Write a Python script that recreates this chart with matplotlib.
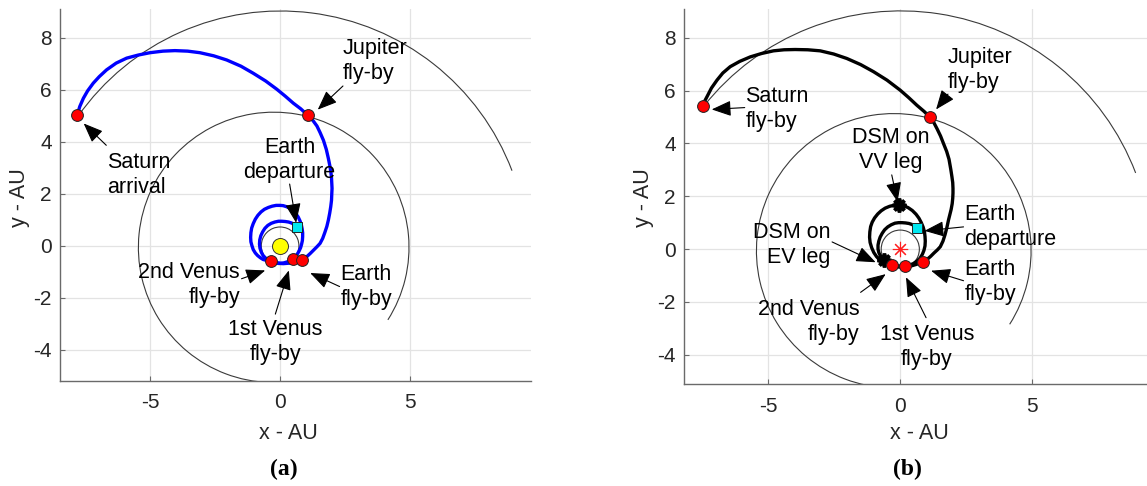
import matplotlib
matplotlib.use("Agg")
import matplotlib.pyplot as plt
from matplotlib.patches import Arc
import numpy as np

plt.rcParams['font.family'] = ['Liberation Sans', 'DejaVu Sans']

# ---------------- data ----------------
# planetary orbits: semi-major axis (AU), eccentricity, perihelion longitude (deg)
orbit_names = ['Venus', 'Earth', 'Jupiter', 'Saturn']
orbit_a = [0.723, 1.000, 5.203, 9.537]
orbit_e = [0.0068, 0.0167, 0.0484, 0.0539]
orbit_peri = [131.5, 102.9, 14.7, 92.4]
# drawn arc extent (deg, about the ellipse centre) for each panel
orbit_start_a = [0, 0, -32.4, 20.9]
orbit_end_a = [360, 360, 268, 144.8]
orbit_start_b = [0, 0, -32.4, 20.9]
orbit_end_b = [360, 360, 268, 141.6]

# panel (a) trajectory legs (AU)
a_ev_x = [0.64, 0.55, 0.45, 0.33, 0.20, 0.07, -0.06, -0.20, -0.34, -0.47, -0.58, -0.67, -0.74, -0.78, -0.79,
          -0.77, -0.72, -0.65, -0.55, -0.43, -0.30, -0.15, 0.00, 0.15, 0.28, 0.39, 0.49]
a_ev_y = [0.73, 0.81, 0.87, 0.91, 0.93, 0.94, 0.94, 0.91, 0.86, 0.78, 0.67, 0.53, 0.38, 0.22, 0.06,
          -0.10, -0.25, -0.38, -0.48, -0.56, -0.62, -0.66, -0.68, -0.66, -0.62, -0.57, -0.51]
a_vv_x = [0.49, 0.58, 0.66, 0.73, 0.79, 0.83, 0.86, 0.87, 0.87, 0.85, 0.82, 0.77, 0.70, 0.61, 0.50, 0.38,
          0.25, 0.12, 0.00, -0.15, -0.30, -0.45, -0.60, -0.73, -0.85, -0.95, -1.03, -1.09, -1.12, -1.13,
          -1.12, -1.08, -1.03, -0.95, -0.86, -0.76, -0.65, -0.50, -0.35]
a_vv_y = [-0.51, -0.43, -0.33, -0.21, -0.08, 0.06, 0.20, 0.35, 0.50, 0.65, 0.80, 0.95, 1.10, 1.23, 1.35, 1.44,
          1.50, 1.54, 1.55, 1.55, 1.52, 1.47, 1.40, 1.30, 1.17, 1.02, 0.85, 0.68, 0.50, 0.32,
          0.15, 0.00, -0.15, -0.28, -0.38, -0.46, -0.53, -0.57, -0.59]
a_ve_x = [-0.35, -0.12, 0.12, 0.38, 0.62, 0.86]
a_ve_y = [-0.59, -0.66, -0.69, -0.67, -0.62, -0.55]
a_ej_x = [0.86, 0.95, 1.03, 1.16, 1.28, 1.42, 1.54, 1.64, 1.72, 1.80, 1.86, 1.91, 1.95, 1.98, 1.99, 2.00,
          1.99, 1.98, 1.96, 1.92, 1.86, 1.78, 1.67, 1.54, 1.42, 1.26, 1.06]
a_ej_y = [-0.55, -0.49, -0.42, -0.30, -0.18, -0.04, 0.09, 0.28, 0.50, 0.74, 0.99, 1.25, 1.50, 1.75, 2.00, 2.20,
          2.40, 2.60, 2.80, 3.05, 3.35, 3.70, 4.05, 4.35, 4.60, 4.82, 5.02]
a_js_x = [1.06, 0.80, 0.51, 0.20, -0.13, -0.55, -1.03, -1.50, -2.05, -2.55, -3.08, -3.55, -4.04, -4.50,
          -5.00, -5.45, -5.90, -6.30, -6.67, -6.95, -7.18, -7.40, -7.56, -7.70, -7.80]
a_js_y = [5.02, 5.26, 5.48, 5.75, 6.02, 6.33, 6.63, 6.90, 7.14, 7.30, 7.42, 7.48, 7.50, 7.48,
          7.42, 7.33, 7.21, 7.02, 6.76, 6.50, 6.25, 5.95, 5.67, 5.35, 5.02]

# panel (a) events
a_flyby_x = [-7.80, 1.06, -0.35, 0.49, 0.86]   # Saturn, Jupiter, 2nd Venus, 1st Venus, Earth
a_flyby_y = [5.02, 5.02, -0.59, -0.51, -0.55]
a_depart = (0.64, 0.73)

# panel (b) trajectory legs (AU)
b_ev_x = [0.63, 0.54, 0.45, 0.33, 0.20, 0.07, -0.06, -0.20, -0.34, -0.47, -0.59, -0.68, -0.76, -0.81, -0.84,
          -0.84, -0.81, -0.76, -0.69, -0.60, -0.50, -0.40, -0.28, -0.15, 0.00, 0.19]
b_ev_y = [0.81, 0.88, 0.93, 0.97, 0.99, 1.00, 1.00, 0.98, 0.92, 0.84, 0.73, 0.60, 0.45, 0.30, 0.15,
          0.00, -0.13, -0.24, -0.33, -0.40, -0.47, -0.54, -0.59, -0.63, -0.65, -0.64]
b_vv_x = [0.19, 0.35, 0.50, 0.63, 0.75, 0.84, 0.90, 0.94, 0.95, 0.94, 0.92, 0.87, 0.80, 0.71, 0.60, 0.46,
          0.30, 0.13, -0.05, -0.23, -0.40, -0.57, -0.72, -0.85, -0.97, -1.06, -1.12, -1.15, -1.16, -1.14,
          -1.08, -1.00, -0.90, -0.79, -0.65, -0.49, -0.31]
b_vv_y = [-0.64, -0.61, -0.55, -0.46, -0.35, -0.20, -0.05, 0.12, 0.30, 0.48, 0.65, 0.83, 1.00, 1.17, 1.32, 1.46,
          1.57, 1.64, 1.67, 1.66, 1.62, 1.55, 1.45, 1.33, 1.18, 1.02, 0.85, 0.65, 0.45, 0.25,
          0.05, -0.13, -0.28, -0.40, -0.50, -0.57, -0.61]
b_ve_x = [-0.31, -0.05, 0.19, 0.45, 0.68, 0.86]
b_ve_y = [-0.61, -0.66, -0.67, -0.63, -0.56, -0.48]
b_ej_x = [0.86, 0.94, 1.01, 1.15, 1.28, 1.41, 1.52, 1.62, 1.70, 1.77, 1.83, 1.88, 1.93, 1.97, 1.99, 2.00,
          2.00, 1.99, 1.96, 1.92, 1.85, 1.76, 1.64, 1.53, 1.40, 1.28, 1.14]
b_ej_y = [-0.48, -0.45, -0.40, -0.28, -0.15, -0.03, 0.09, 0.30, 0.55, 0.82, 1.10, 1.30, 1.50, 1.72, 1.92, 2.12,
          2.30, 2.52, 2.74, 3.00, 3.40, 3.70, 4.00, 4.28, 4.55, 4.78, 4.99]
b_js_x = [1.14, 0.90, 0.63, 0.32, 0.00, -0.50, -1.01, -1.50, -2.02, -2.52, -3.03, -3.50, -3.98, -4.40,
          -4.80, -5.25, -5.68, -6.08, -6.44, -6.72, -6.94, -7.15, -7.32, -7.42, -7.47]
b_js_y = [4.99, 5.22, 5.45, 5.74, 6.02, 6.40, 6.72, 6.99, 7.22, 7.39, 7.51, 7.55, 7.56, 7.55,
          7.51, 7.41, 7.28, 7.11, 6.91, 6.67, 6.40, 6.10, 5.77, 5.58, 5.42]

b_flyby_x = [-7.47, 1.14, -0.31, 0.19, 0.86]
b_flyby_y = [5.42, 4.99, -0.61, -0.64, -0.48]
b_depart = (0.63, 0.81)
b_dsm_x = [-0.05, -0.60]     # VV leg, EV leg
b_dsm_y = [1.67, -0.40]

# annotations: text, text x, text y, alignment, arrow tail (x, y), arrow tip (x, y)
a_labels = ['Jupiter\nfly-by', 'Saturn\narrival', 'Earth\ndeparture', '2nd Venus\nfly-by', '1st Venus\nfly-by', 'Earth\nfly-by']
a_lab_x = [2.42, -6.64, 0.37, -1.54, -0.18, 2.33]
a_lab_y = [7.11, 2.71, 3.30, -1.53, -3.71, -1.59]
a_lab_ha = ['left', 'left', 'center', 'right', 'center', 'left']
a_tail_x = [2.42, -6.68, 0.37, -1.48, -0.18, 2.29]
a_tail_y = [6.14, 3.86, 2.37, -1.27, -2.63, -1.57]
a_tip_x = [1.45, -7.55, 0.62, -0.57, 0.34, 1.16]
a_tip_y = [5.23, 4.70, 0.88, -0.95, -0.95, -1.05]

b_labels = ['Saturn\nfly-by', 'Jupiter\nfly-by', 'DSM on\nVV leg', 'Earth\ndeparture', 'DSM on\nEV leg', 'Earth\nfly-by', '2nd Venus\nfly-by', '1st Venus\nfly-by']
b_lab_x = [-5.86, 1.81, -0.36, 2.44, -2.65, 2.44, -1.54, 1.01]
b_lab_y = [5.29, 6.77, 3.75, 0.84, 0.14, -1.26, -2.78, -3.70]
b_lab_ha = ['left', 'left', 'center', 'left', 'right', 'left', 'right', 'center']
b_tail_x = [-5.89, 1.81, -0.32, 2.40, -2.58, 2.40, -1.50, 0.98]
b_tail_y = [5.36, 5.87, 2.81, 0.84, 0.27, -1.20, -1.64, -2.60]
b_tip_x = [-7.14, 1.36, -0.10, 0.92, -0.93, 1.17, -0.55, 0.22]
b_tip_y = [5.29, 5.29, 1.79, 0.69, -0.50, -0.82, -0.95, -1.07]

x_ticks = [-5, 0, 5]
y_ticks = [-4, -2, 0, 2, 4, 6, 8]

# ---------------- figure ----------------
W, H = 1147, 486
fig = plt.figure(figsize=(W / 100, H / 100), dpi=100)


def px_axes(l, r, t, b):
    return fig.add_axes([l / W, 1 - b / H, (r - l) / W, (b - t) / H])


ax_a = px_axes(60, 531, 9, 380.7)
ax_b = px_axes(684, 1147, 9.4, 384.2)

TXT = 15.5
ORB_COLOR = '#3a3a3a'


def style_axes(ax, xlim, ylim):
    ax.set_xlim(*xlim)
    ax.set_ylim(*ylim)
    ax.set_xticks(x_ticks)
    ax.set_yticks(y_ticks)
    ax.set_xticklabels([str(v) for v in x_ticks])
    ax.set_yticklabels([str(v) for v in y_ticks])
    for s in ['top', 'right']:
        ax.spines[s].set_visible(False)
    for s in ['left', 'bottom']:
        ax.spines[s].set_color('#6a6a6a')
        ax.spines[s].set_linewidth(1.0)
    ax.tick_params(direction='in', length=3.5, width=0.8, color='#6a6a6a',
                   labelsize=15, labelcolor='#262626')
    ax.tick_params(axis='x', pad=9)
    ax.tick_params(axis='y', pad=6)
    ax.grid(True, color='#e3e3e3', linewidth=0.9)
    ax.set_axisbelow(True)
    ax.set_xlabel('x - AU', fontsize=15.5, color='#262626')
    ax.set_ylabel('y - AU', fontsize=15.5, color='#262626')


def draw_orbits(ax, starts, ends):
    for a, e, w, t0, t1 in zip(orbit_a, orbit_e, orbit_peri, starts, ends):
        c = np.array([-a * e * np.cos(np.radians(w)), -a * e * np.sin(np.radians(w))])
        b = a * np.sqrt(1 - e ** 2)
        arc = Arc(c, 2 * a, 2 * b, angle=w, theta1=t0 - w, theta2=t1 - w,
                  color=ORB_COLOR, lw=0.8, zorder=1)
        ax.add_patch(arc)


def draw_labels(ax, labels, lx, ly, ha, tx, ty, px, py):
    for s, x, y, h, x0, y0, x1, y1 in zip(labels, lx, ly, ha, tx, ty, px, py):
        ax.text(x, y, s, ha=h, va='center', fontsize=TXT, linespacing=1.25,
                color='black', zorder=6)
        ax.annotate('', xy=(x1, y1), xytext=(x0, y0),
                    arrowprops=dict(arrowstyle='-|>,head_length=0.8,head_width=0.32',
                                    color='black', lw=0.8, shrinkA=0, shrinkB=0,
                                    mutation_scale=15),
                    zorder=5)


# ---- panel (a) ----
ax = ax_a
style_axes(ax, (-8.46, 9.65), (-5.19, 9.1))
draw_orbits(ax, orbit_start_a, orbit_end_a)
for xs, ys in [(a_ev_x, a_ev_y), (a_vv_x, a_vv_y), (a_ve_x, a_ve_y), (a_ej_x, a_ej_y), (a_js_x, a_js_y)]:
    ax.plot(xs, ys, color='#0000ff', lw=2.4, solid_joinstyle='round', solid_capstyle='round', zorder=2)
ax.plot([0], [0], 'o', ms=11.5, mfc='#ffff00', mec='#333333', mew=0.7, zorder=3)
ax.plot(a_flyby_x, a_flyby_y, 'o', ls='none', ms=8.5, mfc='#ff0000', mec='#222222', mew=0.7, zorder=4)
ax.plot([a_depart[0]], [a_depart[1]], 's', ms=7.5, mfc='#00e8f0', mec='#222222', mew=0.7, zorder=4)
draw_labels(ax, a_labels, a_lab_x, a_lab_y, a_lab_ha, a_tail_x, a_tail_y, a_tip_x, a_tip_y)

# ---- panel (b) ----
ax = ax_b
style_axes(ax, (-8.19, 9.35), (-5.12, 9.08))
draw_orbits(ax, orbit_start_b, orbit_end_b)
for xs, ys in [(b_ev_x, b_ev_y), (b_vv_x, b_vv_y), (b_ve_x, b_ve_y), (b_ej_x, b_ej_y), (b_js_x, b_js_y)]:
    ax.plot(xs, ys, color='black', lw=2.4, solid_joinstyle='round', solid_capstyle='round', zorder=2)
ax.plot([0], [0], marker=(8, 2, 0), ls='none', ms=11, mec='#ff2020', mew=0.8, zorder=3)
ax.plot(b_dsm_x, b_dsm_y, marker=(8, 2, 0), ls='none', ms=10, mec='black', mew=2.6, zorder=4)
ax.plot(b_flyby_x, b_flyby_y, 'o', ls='none', ms=8.5, mfc='#ff0000', mec='#222222', mew=0.7, zorder=4)
ax.plot([b_depart[0]], [b_depart[1]], 's', ms=7.5, mfc='#00e8f0', mec='#222222', mew=0.7, zorder=4)
draw_labels(ax, b_labels, b_lab_x, b_lab_y, b_lab_ha, b_tail_x, b_tail_y, b_tip_x, b_tip_y)

# axis label placement (axes fractions)
for ax, (l, r, t, b), xl, yl in [(ax_a, (60, 531, 9, 380.7), 288, 20),
                                 (ax_b, (684, 1147, 9.4, 384.2), 919, 644)]:
    ax.xaxis.set_label_coords((xl - l) / (r - l), (b - 433) / (b - t))
    ax.xaxis.label.set_va('center')
    ax.yaxis.set_label_coords((yl - l) / (r - l), (b - 198) / (b - t))
    ax.yaxis.label.set_va('center')

# panel captions
fig.text(283.5 / W, 1 - 469 / H, '(a)', ha='center', va='center', fontsize=17,
         fontweight='bold', family=['Liberation Serif', 'DejaVu Serif'])
fig.text(907.5 / W, 1 - 469 / H, '(b)', ha='center', va='center', fontsize=17,
         fontweight='bold', family=['Liberation Serif', 'DejaVu Serif'])

fig.savefig('out.png', dpi=100)
